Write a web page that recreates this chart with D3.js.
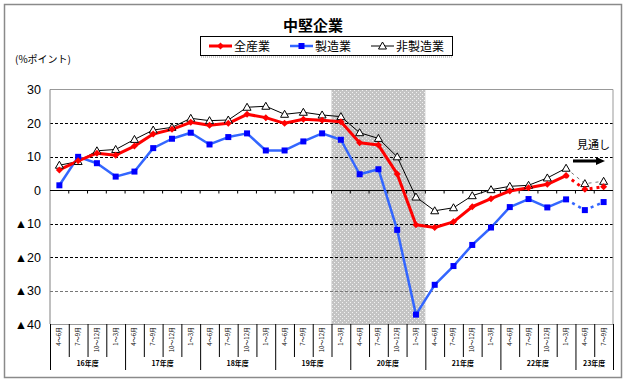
<!DOCTYPE html>
<html><head><meta charset="utf-8">
<script src="https://cdn.jsdelivr.net/npm/d3@7"></script>
<style>body{margin:0;background:#fff}svg{display:block}</style>
</head><body>
<script>
const categories = [
 "4～6月","7～9月","10～12月","1～3月",
 "4～6月","7～9月","10～12月","1～3月",
 "4～6月","7～9月","10～12月","1～3月",
 "4～6月","7～9月","10～12月","1～3月",
 "4～6月","7～9月","10～12月","1～3月",
 "4～6月","7～9月","10～12月","1～3月",
 "4～6月","7～9月","10～12月","1～3月",
 "4～6月","7～9月"];
const fiscalYears = ["16年度","17年度","18年度","19年度","20年度","21年度","22年度","23年度"];
const yearSizes = [4,4,4,4,4,4,4,2];
const allIndustries = [6.0,8.7,11.0,10.4,13.1,16.7,18.1,20.2,19.3,19.9,22.6,21.6,19.9,21.1,20.8,20.4,14.1,13.4,4.8,-10.4,-11.2,-9.5,-5.0,-2.6,-0.3,0.7,1.7,4.3,0.2,1.0];
const manufacturing = [1.4,9.9,8.0,4.0,5.5,12.5,15.3,17.1,13.6,15.8,16.9,11.8,11.8,14.5,16.9,15.0,4.7,6.2,-11.9,-37.2,-28.3,-22.7,-16.4,-11.2,-5.1,-2.7,-5.2,-2.8,-6.0,-3.6];
const nonManufacturing = [7.4,8.5,11.7,12.1,15.1,17.9,18.7,21.4,20.7,20.9,24.7,25.0,22.6,23.2,22.4,21.9,17.1,15.4,9.9,-2.1,-6.2,-5.3,-1.7,0.1,1.1,1.4,3.6,6.5,1.9,2.6];
const yTicks = [30,20,10,0,-10,-20,-30,-40];
const forecastStart = 28;
const shadeFrom = 15, shadeTo = 19;
const seriesNames = ["全産業","製造業","非製造業"];

const W=627,H=383;
const L=50,R=613,T=89.5,B=324;
const svg=d3.select("body").append("svg").attr("width",W).attr("height",H);
const jp="'Noto Sans CJK JP','Liberation Sans',sans-serif";
const lat="'Liberation Sans',Arial,sans-serif";

const defs=svg.append("defs");
const pat=defs.append("pattern").attr("id","hatch").attr("patternUnits","userSpaceOnUse").attr("width",4).attr("height",4);
pat.append("rect").attr("width",4).attr("height",4).attr("fill","#c4c4c4");
pat.append("rect").attr("x",0).attr("y",0).attr("width",1).attr("height",1).attr("fill","#f2f2f2");
pat.append("rect").attr("x",2).attr("y",2).attr("width",1).attr("height",1).attr("fill","#f2f2f2");

svg.append("rect").attr("width",W).attr("height",H).attr("fill","#fff");
svg.append("rect").attr("x",4.5).attr("y",4.5).attr("width",617).attr("height",373)
  .attr("fill","none").attr("stroke","#8a8a8a").attr("stroke-width",1.5);

const x=d3.scaleBand().domain(d3.range(categories.length)).range([L,R]).paddingInner(0).paddingOuter(0);
const y=d3.scaleLinear().domain([-40,30]).range([B,T]);
const cx=i=>x(i)+x.bandwidth()/2;

// shading
svg.append("rect").attr("x",x(shadeFrom)).attr("y",T).attr("width",x(shadeTo)+x.bandwidth()-x(shadeFrom)).attr("height",B-T).attr("fill","url(#hatch)");

// gridlines
[20,10,-10,-20,-30].forEach(v=>{
  svg.append("line").attr("x1",L).attr("x2",R).attr("y1",Math.round(y(v))+0.5).attr("y2",Math.round(y(v))+0.5)
   .attr("stroke",v===-30?"#777":"#000").attr("stroke-width",1).attr("stroke-dasharray","3,2");
});
// plot borders
svg.append("line").attr("x1",L).attr("x2",R).attr("y1",T).attr("y2",T).attr("stroke","#999");
svg.append("line").attr("x1",R).attr("x2",R).attr("y1",T).attr("y2",B).attr("stroke","#999");
svg.append("line").attr("x1",L).attr("x2",L).attr("y1",T).attr("y2",B).attr("stroke","#808080");
svg.append("line").attr("x1",L).attr("x2",R).attr("y1",B+0.5).attr("y2",B+0.5).attr("stroke","#999");
const y0=Math.round(y(0))+0.5;
svg.append("line").attr("x1",L).attr("x2",R).attr("y1",y0).attr("y2",y0).attr("stroke","#000");
d3.range(1,categories.length).forEach(i=>{
  svg.append("line").attr("x1",x(i)).attr("x2",x(i)).attr("y1",y0).attr("y2",y0+3).attr("stroke","#000");
});

// y axis labels
svg.append("g").selectAll("text").data(yTicks).join("text")
  .attr("x",41).attr("y",d=>y(d)+4.5).attr("text-anchor","end")
  .attr("font-family",lat).attr("font-size",12.5).attr("fill","#000")
  .text(d=>d<0?"▲"+Math.abs(d):String(d));

// category labels
svg.append("g").selectAll("text").data(categories).join("text")
  .attr("transform",(d,i)=>`translate(${cx(i)+2},327) rotate(-90)`)
  .attr("text-anchor","end").attr("font-family",jp).attr("font-size",6).attr("fill","#000")
  .text(d=>d);
// separators
let yb=[0];
yearSizes.forEach(s=>yb.push(yb[yb.length-1]+s));
d3.range(0,categories.length+1).forEach(i=>{
  const isYear=yb.includes(i);
  const xx=(i===categories.length?R:x(i))+0.5;
  svg.append("line").attr("x1",xx).attr("x2",xx).attr("y1",B).attr("y2",isYear?370:357).attr("stroke","#000").attr("stroke-width",1);
});
fiscalYears.forEach((fy,k)=>{
  const a=x(yb[k]), b=(yb[k+1]>=categories.length?R:x(yb[k+1]));
  svg.append("text").attr("x",(a+b)/2).attr("y",366).attr("text-anchor","middle")
    .attr("font-family",jp).attr("font-size",7).attr("font-weight","bold").attr("fill","#000").text(fy);
});

// series
function drawSeries(vals,color,width,dash){
  const line=d3.line().x((d,i)=>cx(d.i)).y(d=>y(d.v));
  const pts=vals.map((v,i)=>({i,v}));
  svg.append("path").attr("d",line(pts.slice(0,forecastStart))).attr("fill","none")
    .attr("stroke",color).attr("stroke-width",width).attr("stroke-linejoin","round");
  svg.append("path").attr("d",line(pts.slice(forecastStart-1))).attr("fill","none")
    .attr("stroke",dash).attr("stroke-width",width).attr("stroke-dasharray","3,4");
  return pts;
}
const pn=drawSeries(nonManufacturing,"#000",1,"#777");
const pm=drawSeries(manufacturing,"#3366ff",2.5,"#3366ff");
const pa=drawSeries(allIndustries,"#ff0000",3,"#ff0000");

function tri(g,cxp,cyp){g.append("path").attr("d",`M${cxp},${cyp-4}L${cxp+4},${cyp+3}L${cxp-4},${cyp+3}Z`).attr("fill","#fff").attr("stroke","#000").attr("stroke-width",1);}
function sq(g,cxp,cyp){g.append("rect").attr("x",cxp-3).attr("y",cyp-3).attr("width",6).attr("height",6).attr("fill","#0000ff");}
function dia(g,cxp,cyp){g.append("path").attr("d",`M${cxp},${cyp-3.5}L${cxp+3.5},${cyp}L${cxp},${cyp+3.5}L${cxp-3.5},${cyp}Z`).attr("fill","#ff0000");}
const mg=svg.append("g");
pn.forEach(d=>tri(mg,cx(d.i),y(d.v)));
pm.forEach(d=>sq(mg,cx(d.i),y(d.v)));
pa.forEach(d=>dia(mg,cx(d.i),y(d.v)));

// title
svg.append("text").attr("x",313).attr("y",31).attr("text-anchor","middle")
  .attr("font-family",jp).attr("font-size",15).attr("font-weight","bold").attr("fill","#000").text("中堅企業");
// legend
svg.append("rect").attr("x",200.5).attr("y",36.5).attr("width",252).attr("height",19)
  .attr("fill","#fff").attr("stroke","#000").attr("stroke-width",1);
svg.append("line").attr("x1",201).attr("x2",452).attr("y1",57).attr("y2",57).attr("stroke","#999").attr("stroke-dasharray","1,1");
const lg=svg.append("g");
const legendItems=[
  {name:seriesNames[0],x:209,color:"#ff0000",w:3,m:dia},
  {name:seriesNames[1],x:290,color:"#3366ff",w:2.5,m:sq},
  {name:seriesNames[2],x:371,color:"#000",w:1,m:tri}];
legendItems.forEach(it=>{
  lg.append("line").attr("x1",it.x).attr("x2",it.x+23).attr("y1",46).attr("y2",46).attr("stroke",it.color).attr("stroke-width",it.w);
  it.m(lg,it.x+11.5,46);
  lg.append("text").attr("x",it.x+25).attr("y",50.5).attr("font-family",jp).attr("font-size",12).attr("fill","#000").text(it.name);
});

// unit label
svg.append("text").attr("x",15).attr("y",63).attr("font-family",jp).attr("font-size",10).attr("fill","#000").text("(%ポイント)");

// forecast annotation
svg.append("text").attr("x",577).attr("y",149).attr("font-family",jp).attr("font-size",11).attr("fill","#000").text("見通し");
svg.append("line").attr("x1",573).attr("x2",597).attr("y1",161).attr("y2",161).attr("stroke","#000").attr("stroke-width",3);
svg.append("path").attr("d","M596,157L605,161L596,165Z").attr("fill","#000");
</script>
</body></html>
